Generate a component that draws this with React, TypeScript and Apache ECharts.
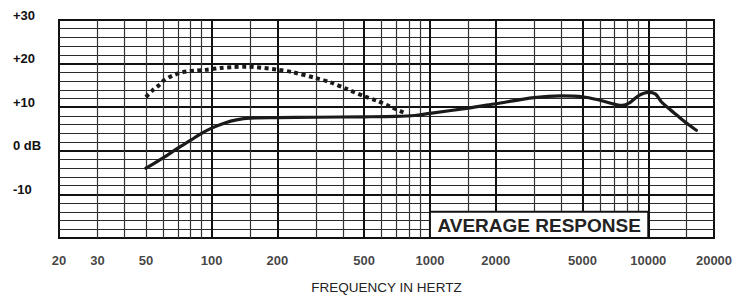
import React, { useEffect, useRef } from "react";
import * as echarts from "echarts";

// Frequency grid lines (Hz)
const gridFreqsMinor = [30, 40, 50, 60, 70, 80, 90, 150, 300, 400, 600, 700, 800, 900, 1500, 3000, 4000, 6000, 7000, 8000, 9000, 15000];
const gridFreqsMajor = [100, 200, 500, 1000, 2000, 5000, 10000];

// X tick labels (Hz)
const xTickValues = [20, 30, 50, 100, 200, 500, 1000, 2000, 5000, 10000, 20000];

// Y tick labels (dB)
const yTickValues = [30, 20, 10, 0, -10, -20];
const yTickLabels = ["+30", "+20", "+10", "0 dB", "-10", ""];

// Solid response curve
const solidFreq = [50, 60, 70, 80, 90, 100, 115, 130, 150, 200, 300, 500, 700, 850, 1000, 1500, 2000, 3000, 4000, 5000, 6000, 7000, 7600, 8200, 9000, 10000, 10800, 11500, 12500, 13500, 15000, 16600];
const solidDb = [-4.0, -1.6, 0.6, 2.4, 4.0, 5.2, 6.4, 7.1, 7.5, 7.6, 7.7, 7.8, 7.9, 8.1, 8.6, 9.8, 10.8, 12.2, 12.6, 12.4, 11.6, 10.7, 10.4, 11.0, 12.6, 13.4, 13.0, 11.2, 9.6, 8.2, 6.3, 4.7];

// Dotted response curve
const dottedFreq = [50, 53.5, 57.6, 61, 66, 71, 77, 85, 95, 110, 125, 145, 200, 236, 300, 350, 415, 500, 570, 655, 770];
const dottedDb = [12.3, 13.8, 15.1, 16.3, 17.2, 17.8, 18.2, 18.4, 18.6, 19.0, 19.2, 19.3, 18.6, 18.0, 16.7, 15.7, 14.2, 12.5, 11.5, 10.2, 8.6];

// Legend box: [freqFrom, dbFrom, freqTo, dbTo]
const boxRange = [1000, -20, 10000, -14];
const boxTitle = "AVERAGE RESPONSE";
const xAxisTitle = "FREQUENCY IN HERTZ";

const FONT = "'Liberation Sans', Arial, Helvetica, sans-serif";

export default function App() {
  const ref = useRef<HTMLDivElement>(null);

  useEffect(() => {
    const chart = echarts.init(ref.current as HTMLDivElement, null, { renderer: "svg" });
    const solidData = solidFreq.map((f, i) => [f, solidDb[i]]);
    const dottedData = dottedFreq.map((f, i) => [f, dottedDb[i]]);
    chart.setOption({
      animation: false,
      backgroundColor: "#ffffff",
      textStyle: { fontFamily: FONT },
      grid: {
        left: 59,
        top: 20,
        right: 35,
        bottom: 57,
        containLabel: false,
        outerBoundsMode: "none",
        show: true,
        borderColor: "#111",
        borderWidth: 2,
        backgroundColor: "transparent",
      },
      xAxis: {
        type: "log",
        logBase: 10,
        min: 20,
        max: 20000,
        axisLine: { show: false },
        axisTick: { show: false },
        axisLabel: { show: false },
        splitLine: { show: false },
        name: xAxisTitle,
        nameLocation: "middle",
        nameGap: 42,
        nameTextStyle: { fontSize: 13.5, color: "#222", fontFamily: FONT },
      },
      yAxis: {
        type: "value",
        min: -20,
        max: 30,
        interval: 10,
        axisLine: { show: false },
        axisTick: { show: false },
        splitLine: { show: true, lineStyle: { color: "#111", width: 2 } },
        minorTick: { show: false, splitNumber: 5 },
        minorSplitLine: { show: true, lineStyle: { color: "#2a2a2a", width: 1.2 } },
        axisLabel: {
          align: "left",
          verticalAlign: "bottom",
          lineHeight: 10,
          margin: 46,
          fontSize: 13,
          fontWeight: "bold",
          color: "#111",
          fontFamily: FONT,
          formatter: (v: number) => {
            const i = yTickValues.indexOf(v);
            return i >= 0 ? yTickLabels[i] : "";
          },
        },
      },
      series: [
        {
          type: "line",
          data: [],
          z: 1,
          silent: true,
          markLine: {
            silent: true,
            z: 1,
            symbol: ["none", "none"],
            label: { show: false },
            data: [
              ...gridFreqsMinor.map((f) => ({ xAxis: f, lineStyle: { color: "#333", width: 1.2, type: "solid" } })),
              ...gridFreqsMajor.map((f) => ({ xAxis: f, lineStyle: { color: "#111", width: 2, type: "solid" } })),
            ],
          },
        },
        {
          type: "custom",
          z: 6,
          silent: true,
          clip: false,
          data: [boxRange],
          renderItem: (_params: any, api: any) => {
            const p0 = api.coord([api.value(0), api.value(1)]);
            const p1 = api.coord([api.value(2), api.value(3)]);
            const x = Math.min(p0[0], p1[0]);
            const y = Math.min(p0[1], p1[1]);
            const w = Math.abs(p1[0] - p0[0]);
            const h = Math.abs(p1[1] - p0[1]);
            return {
              type: "group",
              children: [
                {
                  type: "rect",
                  shape: { x, y, width: w, height: h },
                  style: { fill: "#ffffff", stroke: "#111", lineWidth: 2 },
                },
                {
                  type: "text",
                  x: x + w / 2,
                  y: y + h / 2 + 1,
                  style: {
                    text: boxTitle,
                    fill: "#222",
                    font: `bold 19px ${FONT}`,
                    align: "center",
                    verticalAlign: "middle",
                  },
                },
              ],
            };
          },
        },
        {
          type: "line",
          data: solidData,
          z: 10,
          smooth: 0.3,
          symbol: "none",
          lineStyle: { color: "#1a1a1a", width: 3.2, cap: "round", join: "round" },
        },
        {
          type: "line",
          data: dottedData,
          z: 10,
          smooth: 0.3,
          symbol: "none",
          lineStyle: { color: "#1a1a1a", width: 4, type: [4, 3.5], cap: "butt" },
        },
        {
          type: "scatter",
          data: xTickValues.map((f) => [f, -20]),
          symbolSize: 1,
          itemStyle: { color: "rgba(0,0,0,0)" },
          clip: false,
          silent: true,
          z: 10,
          label: {
            show: true,
            position: "bottom",
            distance: 15,
            fontSize: 13,
            fontWeight: "bold",
            color: "#111",
            fontFamily: FONT,
            formatter: (p: any) => String(p.value[0]),
          },
        },
      ],
    });
    return () => chart.dispose();
  }, []);

  return (
    <div
      ref={ref}
      style={{ position: "fixed", left: 0, top: 0, width: 749, height: 295, background: "#fff" }}
    />
  );
}
